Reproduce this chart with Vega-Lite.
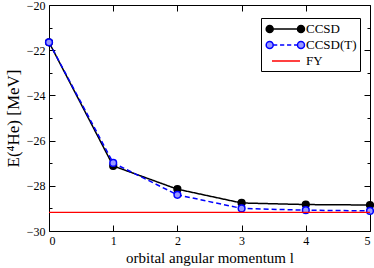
{
  "$schema": "https://vega.github.io/schema/vega-lite/v6.json",
  "autosize": "none",
  "width": 321,
  "height": 226,
  "padding": {"left": 49, "top": 5, "right": 4, "bottom": 37},
  "config": {
    "view": {"stroke": "black", "strokeWidth": 1},
    "font": "Liberation Serif",
    "axis": {"domain": false, "grid": false, "tickColor": "black", "labelColor": "black", "titleColor": "black", "labelFont": "Liberation Serif", "titleFont": "Liberation Serif", "labelFontSize": 12, "titleFontSize": 15, "titleFontWeight": "normal"}
  },
  "datasets": {
    "d": [
      {"l": 0, "E": -21.65, "series": "CCSD"},
      {"l": 1, "E": -27.12, "series": "CCSD"},
      {"l": 2, "E": -28.15, "series": "CCSD"},
      {"l": 3, "E": -28.76, "series": "CCSD"},
      {"l": 4, "E": -28.83, "series": "CCSD"},
      {"l": 5, "E": -28.85, "series": "CCSD"},
      {"l": 0, "E": -21.65, "series": "CCSD(T)"},
      {"l": 1, "E": -26.99, "series": "CCSD(T)"},
      {"l": 2, "E": -28.40, "series": "CCSD(T)"},
      {"l": 3, "E": -29.00, "series": "CCSD(T)"},
      {"l": 4, "E": -29.08, "series": "CCSD(T)"},
      {"l": 5, "E": -29.11, "series": "CCSD(T)"},
      {"l": 0, "E": -29.18, "series": "FY"}
    ]
  },
  "data": {"name": "d"},
  "resolve": {"axis": {"x": "independent", "y": "independent"}},
  "layer": [
    {
      "transform": [{"filter": "datum.series !== 'FY'"}],
      "mark": {"type": "line", "strokeWidth": 1.5},
      "encoding": {
        "x": {"field": "l", "type": "quantitative", "scale": {"domain": [0, 5], "nice": false},
              "axis": {"orient": "bottom", "values": [0, 1, 2, 3, 4, 5], "tickSize": -6, "labelPadding": 10, "title": "orbital angular momentum l", "titlePadding": 4}},
        "y": {"field": "E", "type": "quantitative", "scale": {"domain": [-30, -20], "nice": false, "zero": false},
              "axis": {"orient": "left", "values": [-30, -29, -28, -27, -26, -25, -24, -23, -22, -21, -20],
                       "tickSize": {"condition": {"test": "datum.value % 2 === 0", "value": -6}, "value": -3},
                       "labelExpr": "datum.value % 2 === 0 ? datum.label : ''", "labelOverlap": false, "labelPadding": 10,
                       "title": "E(⁴He) [MeV]", "titleFontSize": 17, "titlePadding": 4}},
        "color": {"field": "series", "type": "nominal",
                  "scale": {"domain": ["CCSD", "CCSD(T)", "FY"], "range": ["#000000", "#0000ff", "#ff0000"]},
                  "legend": {"title": null, "orient": "none", "legendX": 212, "legendY": 13,
                             "strokeColor": "black", "fillColor": "white", "padding": 3, "cornerRadius": 0,
                             "labelFont": "Liberation Serif", "labelFontSize": 13, "labelColor": "black",
                             "symbolSize": 196, "symbolStrokeWidth": 1.5, "rowPadding": 1, "labelOffset": 26,
                             "encode": {"symbols": {"update": {
                               "shape": {"signal": "datum.value === 'FY' ? 'M0,0H4' : datum.value === 'CCSD' ? 'M-0.33,0H4.14M0.17,0A0.5,0.5 0 1 1 -0.83,0A0.5,0.5 0 1 1 0.17,0ZM4.64,0A0.5,0.5 0 1 1 3.64,0A0.5,0.5 0 1 1 4.64,0Z' : 'M0.17,0H0.75M1.15,0H1.75M2.15,0H2.75M3.15,0H3.64M0.17,0A0.5,0.5 0 1 1 -0.83,0A0.5,0.5 0 1 1 0.17,0ZM4.64,0A0.5,0.5 0 1 1 3.64,0A0.5,0.5 0 1 1 4.64,0Z'"},
                               "fill": {"signal": "datum.value === 'CCSD' ? 'black' : datum.value === 'CCSD(T)' ? '#9999ff' : 'transparent'"}
                             }}}}},
        "strokeDash": {"field": "series", "type": "nominal",
                       "scale": {"domain": ["CCSD", "CCSD(T)"], "range": [[1, 0], [5, 3]]}, "legend": null}
      }
    },
    {
      "transform": [{"filter": "datum.series !== 'FY'"}],
      "mark": {"type": "point", "shape": "circle", "size": 45, "strokeWidth": 1.5, "opacity": 1},
      "encoding": {
        "x": {"field": "l", "type": "quantitative", "axis": null},
        "y": {"field": "E", "type": "quantitative", "axis": null},
        "color": {"field": "series", "type": "nominal"},
        "fill": {"field": "series", "type": "nominal", "scale": {"domain": ["CCSD", "CCSD(T)"], "range": ["#000000", "#9999ff"]}, "legend": null},
        "fillOpacity": {"value": 1}
      }
    },
    {
      "transform": [{"filter": "datum.series === 'FY'"}],
      "mark": {"type": "rule", "strokeWidth": 1.2},
      "encoding": {
        "y": {"field": "E", "type": "quantitative", "axis": null},
        "color": {"field": "series", "type": "nominal"}
      }
    },
    {
      "transform": [{"filter": "datum.series === 'FY'"}],
      "mark": {"type": "point", "opacity": 0},
      "encoding": {
        "x": {"field": "l", "type": "quantitative",
              "axis": {"orient": "top", "values": [0, 1, 2, 3, 4, 5], "tickSize": -6, "labels": false, "title": null}},
        "y": {"field": "E", "type": "quantitative",
              "axis": {"orient": "right", "values": [-30, -29, -28, -27, -26, -25, -24, -23, -22, -21, -20],
                       "tickSize": {"condition": {"test": "datum.value % 2 === 0", "value": -6}, "value": -3},
                       "labels": false, "title": null}}
      }
    }
  ]
}
